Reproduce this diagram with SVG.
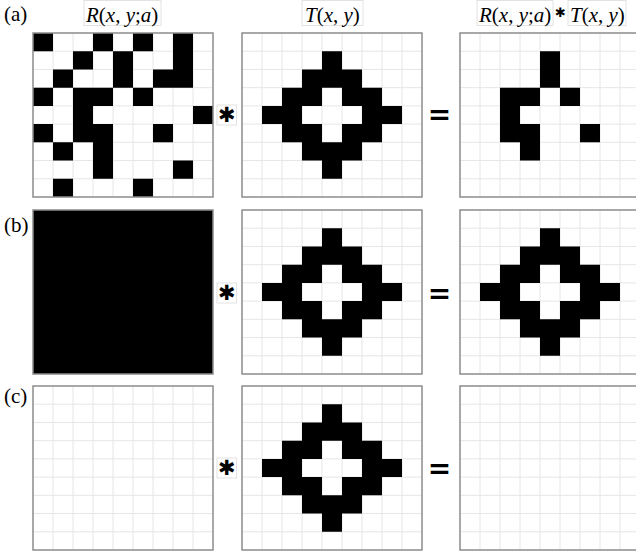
<svg xmlns="http://www.w3.org/2000/svg" xmlns:xlink="http://www.w3.org/1999/xlink" width="636" height="555" viewBox="0 0 636 555">
<style>
.frame{fill:none;stroke:#8c8c8c;stroke-width:1.5}
.grid{stroke:#e6e6e6;stroke-width:1;fill:none}
.on{fill:#000}
.lbl{font-family:"Liberation Serif","Times New Roman",serif;font-size:21px;fill:#000}
.math{font-family:"Liberation Serif","Times New Roman",serif;font-size:21px;fill:#000}
.it{font-style:italic}
.tbox{fill:#fff;stroke:#e2e2e2;stroke-width:1}
.star{font-family:"DejaVu Sans",sans-serif;fill:#000;text-anchor:middle}
.eq{font-family:"DejaVu Sans",sans-serif;font-weight:bold;font-size:28px;fill:#000;text-anchor:middle}
</style>
<defs>
<g id="gridlines">
<path class="grid" vector-effect="non-scaling-stroke" d="M1 0V9M2 0V9M3 0V9M4 0V9M5 0V9M6 0V9M7 0V9M8 0V9M0 1H9M0 2H9M0 3H9M0 4H9M0 5H9M0 6H9M0 7H9M0 8H9"/>
</g>
<path id="tpat" d="M4 1h1v1h-1z M3 2h3v1h-3z M2 3h2v1h-2z M5 3h2v1h-2z M1 4h2v1h-2z M6 4h2v1h-2z M2 5h2v1h-2z M5 5h2v1h-2z M3 6h3v1h-3z M4 7h1v1h-1z"/>
</defs>
<rect width="636" height="555" fill="#fff"/>

<!-- labels -->
<g id="label-a"><text class="lbl" x="4" y="21">(a)</text></g>
<g id="label-b"><text class="lbl" x="4" y="232">(b)</text></g>
<g id="label-c"><text class="lbl" x="4" y="403">(c)</text></g>

<g id="title-R">
<rect class="tbox" x="84" y="0.5" width="77" height="25"/>
<text class="math" x="86" y="22"><tspan class="it">R</tspan>(<tspan class="it">x</tspan>, <tspan class="it">y</tspan>;<tspan class="it">a</tspan>)</text>
</g>
<g id="title-T">
<rect class="tbox" x="302" y="0.5" width="61" height="25"/>
<text class="math" x="305" y="22"><tspan class="it">T</tspan>(<tspan class="it">x</tspan>, <tspan class="it">y</tspan>)</text>
</g>
<g id="title-RT">
<rect class="tbox" x="477" y="0.5" width="76" height="25"/>
<text class="math" x="479" y="22"><tspan class="it">R</tspan>(<tspan class="it">x</tspan>, <tspan class="it">y</tspan>;<tspan class="it">a</tspan>)</text>
<text class="star" x="560.5" y="17" font-size="13">✱</text>
<rect class="tbox" x="568" y="0.5" width="58" height="25"/>
<text class="math" x="570" y="22"><tspan class="it">T</tspan>(<tspan class="it">x</tspan>, <tspan class="it">y</tspan>)</text>
</g>

<!-- Row (a) -->
<g id="R-a">
<svg x="33" y="33" width="180" height="164" viewBox="0 0 9 9" preserveAspectRatio="none">
<rect width="9" height="9" fill="#fff"/>
<use xlink:href="#gridlines"/>
<path class="on" d="M0 0h1v1h-1z M3 0h1v1h-1z M5 0h1v1h-1z M7 0h1v1h-1z M2 1h1v1h-1z M4 1h1v1h-1z M7 1h1v1h-1z M1 2h1v1h-1z M4 2h1v1h-1z M6 2h2v1h-2z M0 3h1v1h-1z M2 3h2v1h-2z M5 3h1v1h-1z M2 4h1v1h-1z M8 4h1v1h-1z M0 5h1v1h-1z M2 5h2v1h-2z M6 5h1v1h-1z M1 6h1v1h-1z M3 6h1v1h-1z M3 7h1v1h-1z M7 7h1v1h-1z M1 8h1v1h-1z M5 8h1v1h-1z"/>
</svg>
<rect class="frame" x="33" y="33" width="180" height="164"/>
</g>
<g id="T-a">
<svg x="242" y="33" width="180" height="164" viewBox="0 0 9 9" preserveAspectRatio="none">
<rect width="9" height="9" fill="#fff"/>
<use xlink:href="#gridlines"/>
<use xlink:href="#tpat" class="on"/>
</svg>
<rect class="frame" x="242" y="33" width="180" height="164"/>
</g>
<g id="Res-a">
<svg x="460" y="33" width="180" height="164" viewBox="0 0 9 9" preserveAspectRatio="none">
<rect width="9" height="9" fill="#fff"/>
<use xlink:href="#gridlines"/>
<path class="on" d="M4 1h1v2h-1z M2 3h2v1h-2z M5 3h1v1h-1z M2 4h1v1h-1z M2 5h2v1h-2z M6 5h1v1h-1z M3 6h1v1h-1z"/>
</svg>
<rect class="frame" x="460" y="33" width="180" height="164"/>
</g>

<!-- Row (b) -->
<g id="R-b">
<rect class="on" x="33" y="210" width="180" height="164"/>
<rect class="frame" x="33" y="210" width="180" height="164"/>
</g>
<g id="T-b">
<svg x="242" y="210" width="180" height="164" viewBox="0 0 9 9" preserveAspectRatio="none">
<rect width="9" height="9" fill="#fff"/>
<use xlink:href="#gridlines"/>
<use xlink:href="#tpat" class="on"/>
</svg>
<rect class="frame" x="242" y="210" width="180" height="164"/>
</g>
<g id="Res-b">
<svg x="460" y="210" width="180" height="164" viewBox="0 0 9 9" preserveAspectRatio="none">
<rect width="9" height="9" fill="#fff"/>
<use xlink:href="#gridlines"/>
<use xlink:href="#tpat" class="on"/>
</svg>
<rect class="frame" x="460" y="210" width="180" height="164"/>
</g>

<!-- Row (c) -->
<g id="R-c">
<svg x="33" y="386" width="180" height="164" viewBox="0 0 9 9" preserveAspectRatio="none">
<rect width="9" height="9" fill="#fff"/>
<use xlink:href="#gridlines"/>
</svg>
<rect class="frame" x="33" y="386" width="180" height="164"/>
</g>
<g id="T-c">
<svg x="242" y="386" width="180" height="164" viewBox="0 0 9 9" preserveAspectRatio="none">
<rect width="9" height="9" fill="#fff"/>
<use xlink:href="#gridlines"/>
<use xlink:href="#tpat" class="on"/>
</svg>
<rect class="frame" x="242" y="386" width="180" height="164"/>
</g>
<g id="Res-c">
<svg x="460" y="386" width="180" height="164" viewBox="0 0 9 9" preserveAspectRatio="none">
<rect width="9" height="9" fill="#fff"/>
<use xlink:href="#gridlines"/>
</svg>
<rect class="frame" x="460" y="386" width="180" height="164"/>
</g>

<!-- operators -->
<g id="operators">
<rect class="tbox" x="217" y="105" width="19.5" height="20"/>
<text class="star" x="226.7" y="121.5" font-size="21">✱</text>
<text class="eq" x="439.5" y="123.5">=</text>
<rect class="tbox" x="217" y="283" width="19.5" height="20"/>
<text class="star" x="226.7" y="299.5" font-size="21">✱</text>
<text class="eq" x="439.5" y="302.5">=</text>
<rect class="tbox" x="217" y="458" width="19.5" height="20"/>
<text class="star" x="226.7" y="474.5" font-size="21">✱</text>
<text class="eq" x="439.5" y="477.5">=</text>
</g>
</svg>
